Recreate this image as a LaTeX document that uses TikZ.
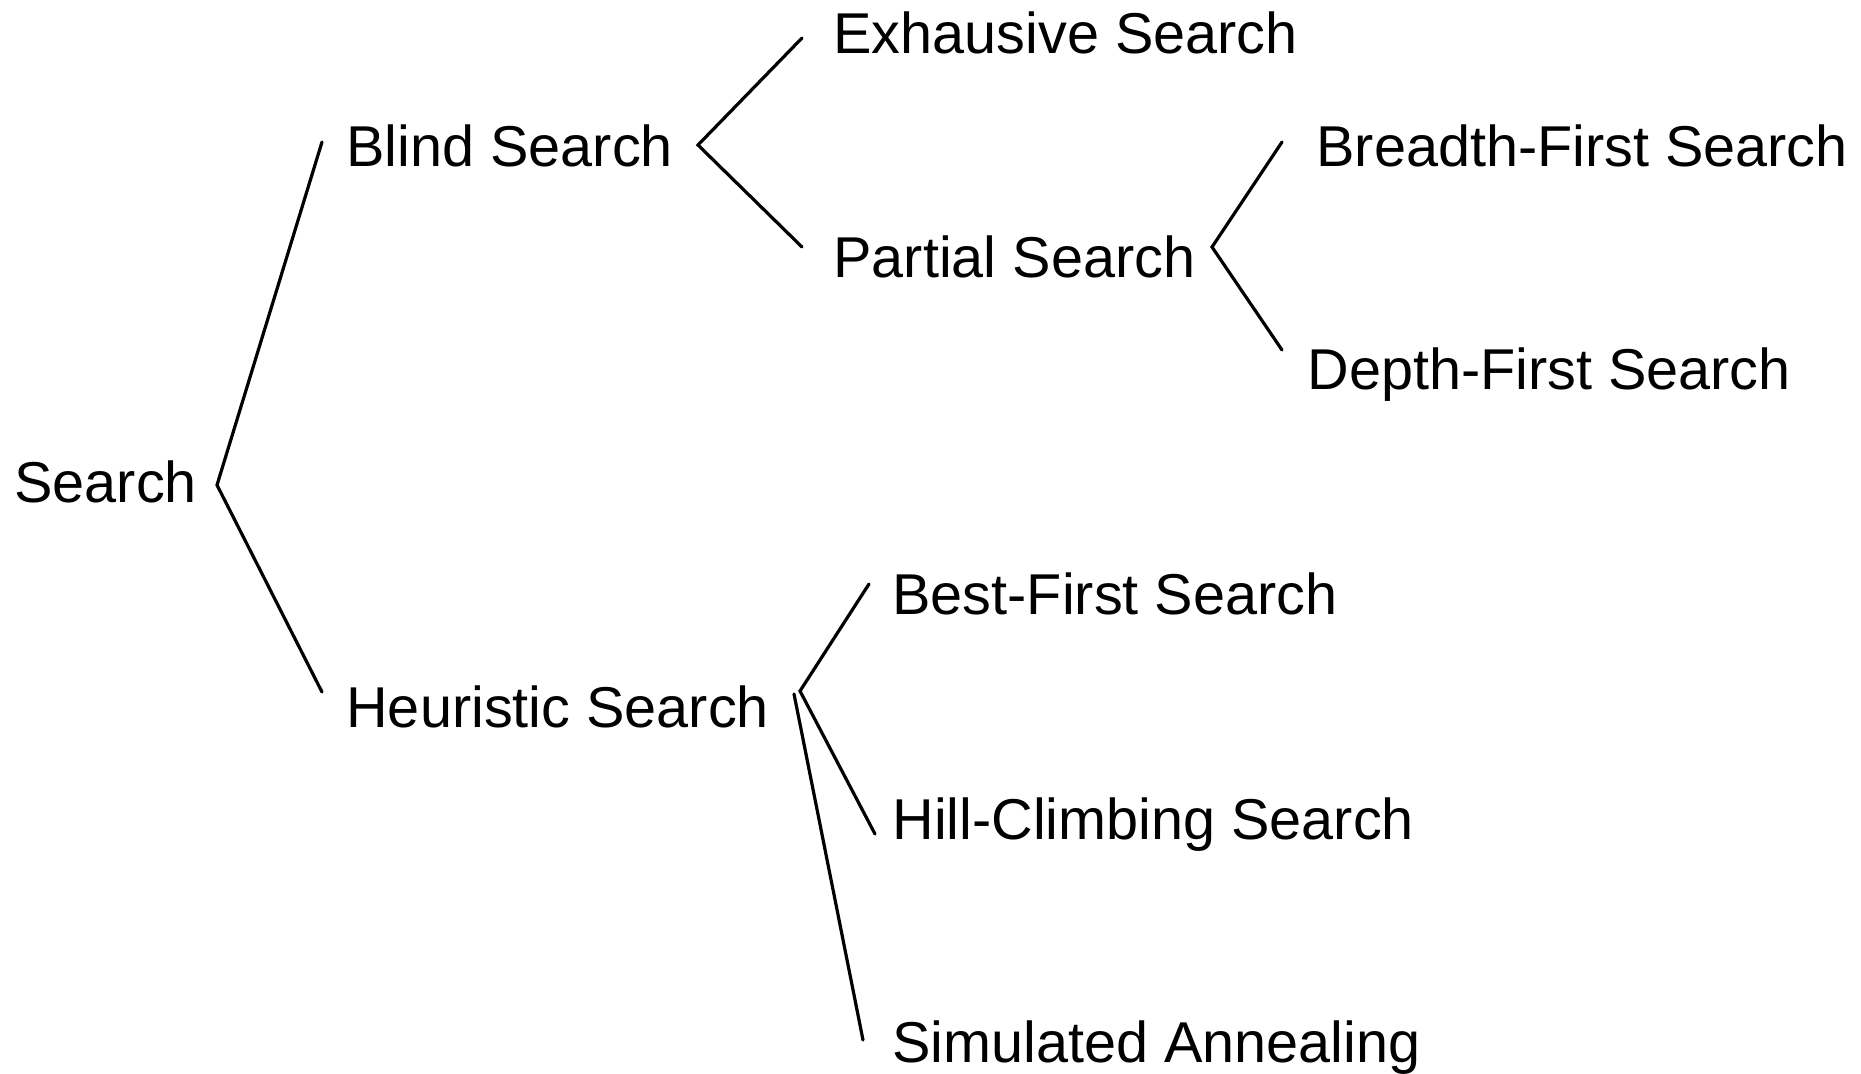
\documentclass[tikz,border=0pt]{standalone}
\usepackage{fontspec}
\setmainfont{Liberation Sans}
\begin{document}
\begin{tikzpicture}[x=0.5pt,y=-0.5pt,
  label/.style={anchor=base west,inner sep=0pt,font=\fontsize{28.8}{34}\selectfont},
  branch/.style={line width=1.6pt,line cap=round,line join=miter}]
\useasboundingbox (0,0) rectangle (1861,1073);

% terms of the taxonomy
\node[label] (search) at (14,502) {Search};
\node[label] (blind) at (346,166) {Blind Search};
\node[label] (heur) at (346,727) {Heuristic Search};
\node[label] (exh) at (833,53) {Exhausive Search};
\node[label] (part) at (833,277) {Partial Search};
\node[label] (bfs) at (1316,166) {Breadth-First Search};
\node[label] (dfs) at (1307,389) {Depth-First Search};
\node[label] (best) at (892,614) {Best-First Search};
\node[label] (hill) at (892,839) {Hill-Climbing Search};
\node[label] (sa) at (892,1062) {Simulated Annealing};

% fork points and branch ends
\coordinate (f0) at (217,485);
\coordinate (f0a) at (322,142);
\coordinate (f0b) at (322,692);
\coordinate (f1) at (698,145);
\coordinate (f1a) at (802,38);
\coordinate (f1b) at (802,247);
\coordinate (f2) at (1212,247);
\coordinate (f2a) at (1282,142);
\coordinate (f2b) at (1282,350);
\coordinate (f3) at (800,691);
\coordinate (f3a) at (869,584);
\coordinate (f3b) at (875,834);
\coordinate (f4) at (794,694);
\coordinate (f4a) at (863,1040);

% branches
\draw[branch] (f0a) -- (f0) -- (f0b);
\draw[branch] (f1a) -- (f1) -- (f1b);
\draw[branch] (f2a) -- (f2) -- (f2b);
\draw[branch] (f3a) -- (f3) -- (f3b);
\draw[branch] (f4) -- (f4a);
\end{tikzpicture}
\end{document}
